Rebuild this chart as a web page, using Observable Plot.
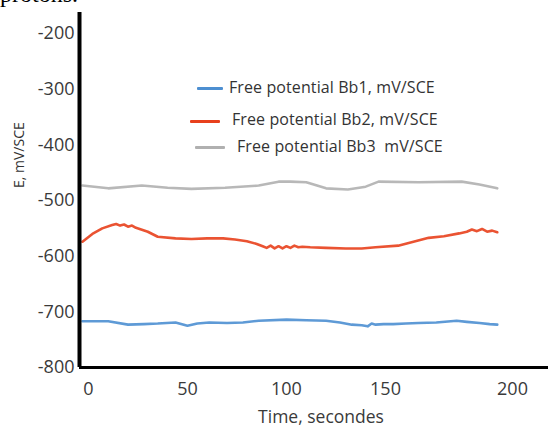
<!DOCTYPE html>
<html>
<head>
<meta charset="utf-8">
<script src="https://cdn.jsdelivr.net/npm/d3@7"></script>
<script src="https://cdn.jsdelivr.net/npm/@observablehq/plot@0.6"></script>
<style>
  html, body { margin: 0; padding: 0; background: #fff; }
  #wrap { position: relative; width: 552px; height: 428px; overflow: hidden; font-family: "Open Sans", sans-serif; }
  #wrap svg { position: absolute; left: 0; top: 0; }
  .cut { position: absolute; left: 0; top: -18px; font-family: "Liberation Serif", serif; font-size: 24px; line-height: 24px; color: #000; white-space: nowrap; }
  .lg-line { position: absolute; height: 3px; border-radius: 1px; }
  .lg-text { position: absolute; font-size: 16px; line-height: 18px; color: #333; white-space: pre; letter-spacing: 0.1px; }
</style>
</head>
<body>
<div id="wrap">
  <div class="cut">protons.</div>
</div>
<script>
// Series: [time (s), E (mV/SCE)]
const seriesNames = ["Free potential Bb1, mV/SCE", "Free potential Bb2, mV/SCE", "Free potential Bb3  mV/SCE"];
const seriesColors = ["#4d8fd1", "#e8401c", "#b0b0b0"];

const bb1 = [
  [-3,-717],[10,-717],[20,-723],[28,-722],[35,-721],[44,-719],[50,-725],[55,-721],[61,-719],[70,-720],
  [78,-719],[86,-716],[100,-714],[110,-715],[120,-716],[127,-719],[133,-723],[138,-724],[141,-726],
  [143,-721],[145,-723],[149,-722],[153,-722],[158,-721],[163,-720],[170,-719],[178,-716],[182,-718],
  [187,-720],[191,-722],[194,-723]
];
const bb2 = [
  [-3,-574],[2,-560],[7,-550],[12,-544],[14,-542],[16,-545],[18,-543],[20,-547],[22,-545],[24,-549],
  [30,-556],[35,-565],[44,-568],[52,-569],[60,-568],[68,-568],[74,-570],[80,-573],[85,-578],[88,-582],
  [90,-585],[92,-581],[94,-586],[96,-582],[98,-586],[100,-582],[102,-585],[104,-581],[106,-584],[108,-583],
  [112,-584],[120,-585],[130,-586],[138,-586],[145,-584],[155,-581],[161,-574],[167,-567],[173,-564],
  [179,-559],[182,-556],[184,-552],[186,-555],[188,-551],[190,-556],[192,-554],[194,-557]
];
const bb3 = [
  [-3,-473],[10,-478],[27,-473],[40,-477],[52,-479],[69,-477],[86,-473],[96,-466],[102,-466],[110,-467],
  [120,-478],[131,-480],[140,-475],[146.5,-466],[163,-467],[180,-466],[187,-471],[194,-478]
];

const xTicks = [0, 50, 100, 150, 200];
const yTicks = [-800, -700, -600, -500, -400, -300, -200];

const series = [bb1, bb2, bb3];
const rows = series.map(s => s.map(([t, e]) => ({t, e})));

const chart = Plot.plot({
  width: 552,
  height: 428,
  marginLeft: 79,
  marginRight: 4,
  marginTop: 12,
  marginBottom: 61,
  style: { fontFamily: "Open Sans, sans-serif", fontSize: "18px", color: "#3a3a3a", background: "transparent", overflow: "visible" },
  x: { type: "linear", domain: [-4.5, 150, 200, 214], range: [79, 385, 512, 548], ticks: xTicks, tickSize: 0, tickPadding: 15, label: null, tickFormat: d => String(d) },
  y: { domain: [-800, -162], range: [367, 12], ticks: yTicks, tickSize: 0, tickPadding: 5, label: null, tickFormat: d => String(d) },
  marks: [
    ...rows.map((r, i) => Plot.line(r, { x: "t", y: "e", stroke: seriesColors[i], strokeWidth: 2.6, strokeOpacity: 0.9 })),
    Plot.ruleX([-4.5], { stroke: "#000", strokeWidth: 4 }),
    Plot.ruleY([-800], { stroke: "#000", strokeWidth: 3 }),
    Plot.text(["Time, secondes"], { frameAnchor: "bottom", dx: 7, dy: 50, fontSize: 17.5, fill: "#3a3a3a", lineAnchor: "middle" }),
    Plot.text(["E, mV/SCE"], { frameAnchor: "left", dx: -60, dy: -2, rotate: -90, fontSize: 14, fill: "#333" })
  ]
});
const wrap = document.getElementById("wrap");
wrap.insertBefore(chart, wrap.firstChild);

// Legend (inside the plot area)
const legendPos = [
  { lx: 197, lw: 26, ly: 88, tx: 229, ty: 88 },
  { lx: 190, lw: 30, ly: 121, tx: 232, ty: 120 },
  { lx: 195, lw: 30, ly: 147, tx: 237, ty: 147 }
];
seriesNames.forEach((name, i) => {
  const p = legendPos[i];
  const ln = document.createElement("div");
  ln.className = "lg-line";
  ln.style.left = p.lx + "px"; ln.style.width = p.lw + "px"; ln.style.top = (p.ly - 1.5) + "px";
  ln.style.background = seriesColors[i];
  wrap.appendChild(ln);
  const tx = document.createElement("div");
  tx.className = "lg-text";
  tx.style.left = p.tx + "px"; tx.style.top = (p.ty - 10) + "px";
  tx.textContent = name;
  wrap.appendChild(tx);
});
</script>
</body>
</html>
